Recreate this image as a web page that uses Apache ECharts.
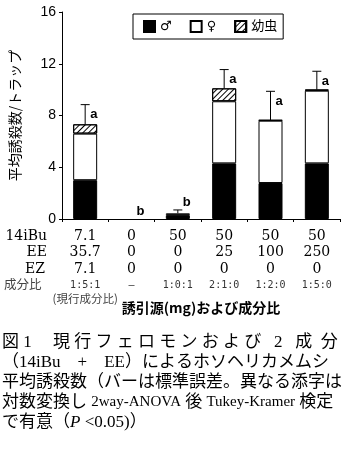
<!DOCTYPE html>
<html>
<head>
<meta charset="utf-8">
<script src="https://cdn.jsdelivr.net/npm/echarts@6/dist/echarts.min.js"></script>
<style>
  html, body { margin: 0; padding: 0; background: #fff; }
  #main { width: 353px; height: 452px; }
</style>
</head>
<body>
<div id="main"></div>
<script>
// 成分比 (カテゴリ)
const ratio = ['1:5:1', '–', '1:0:1', '2:1:0', '1:2:0', '1:5:0'];
// 誘引源 (mg)
const iBu = ['7.1', '0', '50', '50', '50', '50'];
const ee = ['35.7', '0', '0', '25', '100', '250'];
const ez = ['7.1', '0', '0', '0', '0', '0'];
// 平均誘殺数/トラップ
const male = [3.0, 0, 0.3, 4.3, 2.78, 4.3];
const female = [3.6, 0, 0.14, 4.8, 4.82, 5.62];
const larva = [0.72, 0, 0, 1.0, 0.05, 0.08];
const se = [1.52, 0, 0.26, 1.45, 2.22, 1.42];
const letters = ['a', 'b', 'b', 'a', 'a', 'a'];
const yTicks = { min: 0, max: 16, interval: 4 };

const captionLines = [
    '図 1　 現 行 フ ェ ロ モ ン お よ び   2   成  分',
    '（14iBu　+　EE）によるホソヘリカメムシ',
    '平均誘殺数（バーは標準誤差。異なる添字は',
    '対数変換し {l|2way-ANOVA} 後 {l|Tukey-Kramer} 検定',
    'で有意（{i|P} <0.05)）'
];

const totals = male.map((m, i) => m + female[i] + larva[i]);
// 0 の棒は描かない
const noZero = arr => arr.map(v => (v === 0 ? '-' : v));

var myChart = echarts.init(document.getElementById('main'));

const serifCJK = "'Liberation Serif', 'Noto Sans CJK JP'";
const gothic = "'Noto Sans CJK JP'";

let option = {
    animation: false,
    backgroundColor: '#fff',
    grid: {
        left: 53,
        right: 13,
        top: 12,
        bottom: 233,
        containLabel: false
    },
    legend: {
        left: 133,
        top: 14,
        padding: [6, 6, 6, 10],
        itemGap: 18,
        itemWidth: 11,
        itemHeight: 11,
        icon: 'rect',
        borderColor: '#000',
        borderWidth: 1,
        backgroundColor: '#fff',
        data: ['♂', '♀', '幼虫'],
        textStyle: {
            color: '#000',
            fontSize: 13,
            fontFamily: "'DejaVu Sans', 'Noto Sans CJK JP'"
        }
    },
    xAxis: {
        type: 'category',
        data: ratio,
        axisLine: { lineStyle: { color: '#000', width: 1 } },
        axisTick: { show: true, length: 3, lineStyle: { color: '#000' } },
        axisLabel: {
            interval: 0,
            margin: 9,
            formatter: function (value, i) {
                let s = '{v|' + iBu[i] + '}\n{v|' + ee[i] + '}\n{v|' + ez[i] + '}\n{r|' + value + '}';
                if (i === 0) s += '\n{n|(現行成分比)}';
                return s;
            },
            rich: {
                v: { fontFamily: 'DejaVu Serif', fontSize: 14, lineHeight: 16.5, color: '#000' },
                r: { fontFamily: 'DejaVu Sans Mono', fontSize: 10, lineHeight: 15, color: '#333' },
                n: { fontFamily: gothic, fontSize: 11.5, lineHeight: 13, color: '#444' }
            }
        }
    },
    yAxis: {
        type: 'value',
        min: yTicks.min,
        max: yTicks.max,
        interval: yTicks.interval,
        name: '平均誘殺数/トラップ',
        nameLocation: 'middle',
        nameGap: 40,
        nameRotate: 90,
        nameTextStyle: { color: '#000', fontSize: 14, fontFamily: gothic },
        axisLine: { show: true, lineStyle: { color: '#000', width: 1 } },
        axisTick: { show: true, length: 3, lineStyle: { color: '#000' } },
        splitLine: { show: false },
        axisLabel: {
            color: '#000',
            fontSize: 14,
            fontFamily: 'Liberation Sans',
            margin: 6
        }
    },
    series: [
        {
            name: '♂',
            type: 'bar',
            stack: 'total',
            barWidth: 24,
            itemStyle: { color: '#000', borderColor: '#000', borderWidth: 1 },
            data: noZero(male)
        },
        {
            name: '♀',
            type: 'bar',
            stack: 'total',
            itemStyle: { color: '#fff', borderColor: '#000', borderWidth: 1 },
            data: noZero(female)
        },
        {
            name: '幼虫',
            type: 'bar',
            stack: 'total',
            itemStyle: {
                color: '#fff',
                borderColor: '#000',
                borderWidth: 1,
                decal: {
                    symbol: 'rect',
                    symbolSize: 1,
                    dashArrayX: [1, 0],
                    dashArrayY: [1, 3],
                    rotation: -Math.PI / 4,
                    color: '#000'
                }
            },
            data: noZero(larva)
        },
        {
            // 標準誤差バーと添字
            type: 'custom',
            encode: { x: 0, y: [1, 2] },
            data: totals.map((t, i) => [i, t, t + se[i]]),
            z: 5,
            renderItem: function (params, api) {
                const i = api.value(0);
                const base = api.coord([i, api.value(1)]);
                const top = api.coord([i, api.value(2)]);
                const children = [];
                if (se[params.dataIndex] > 0) {
                    children.push({
                        type: 'line',
                        shape: { x1: base[0], y1: base[1], x2: top[0], y2: top[1] },
                        style: { stroke: '#000', lineWidth: 1 }
                    });
                    children.push({
                        type: 'line',
                        shape: { x1: top[0] - 4.5, y1: top[1], x2: top[0] + 4.5, y2: top[1] },
                        style: { stroke: '#000', lineWidth: 1 }
                    });
                }
                const ly = api.value(2) > 2 ? top[1] + 10 : top[1] - 8;
                children.push({
                    type: 'text',
                    x: top[0] + 5,
                    y: ly,
                    style: {
                        text: letters[params.dataIndex],
                        fill: '#000',
                        font: 'bold 13px Liberation Sans',
                        align: 'left',
                        verticalAlign: 'middle'
                    }
                });
                return { type: 'group', children: children };
            }
        }
    ],
    graphic: [
        { type: 'text', x: 47, y: 236, style: { text: '14iBu', font: "14px 'DejaVu Serif'", fill: '#000', align: 'right', verticalAlign: 'middle' } },
        { type: 'text', x: 47, y: 252.7, style: { text: 'EE', font: "14px 'DejaVu Serif'", fill: '#000', align: 'right', verticalAlign: 'middle' } },
        { type: 'text', x: 45, y: 269, style: { text: 'EZ', font: "14px 'DejaVu Serif'", fill: '#000', align: 'right', verticalAlign: 'middle' } },
        { type: 'text', x: 4, y: 284, style: { text: '成分比', font: "12.5px 'Noto Sans CJK JP'", fill: '#444', align: 'left', verticalAlign: 'middle' } },
        { type: 'text', x: 201, y: 308, style: { text: '誘引源(mg)および成分比', font: "bold 14px 'Noto Sans CJK JP'", fill: '#000', align: 'center', verticalAlign: 'middle' } }
    ].concat(captionLines.map((line, k) => ({
        type: 'text',
        x: 2,
        y: 343 + k * 19.8,
        style: {
            text: line,
            font: '17px ' + serifCJK,
            fill: '#000',
            align: 'left',
            verticalAlign: 'middle',
            rich: {
                i: { fontStyle: 'italic', fontFamily: 'Liberation Serif', fontSize: 17 },
                l: { fontFamily: 'Liberation Serif', fontSize: 15 }
            }
        }
    })))
};

myChart.setOption(option);
</script>
</body>
</html>
